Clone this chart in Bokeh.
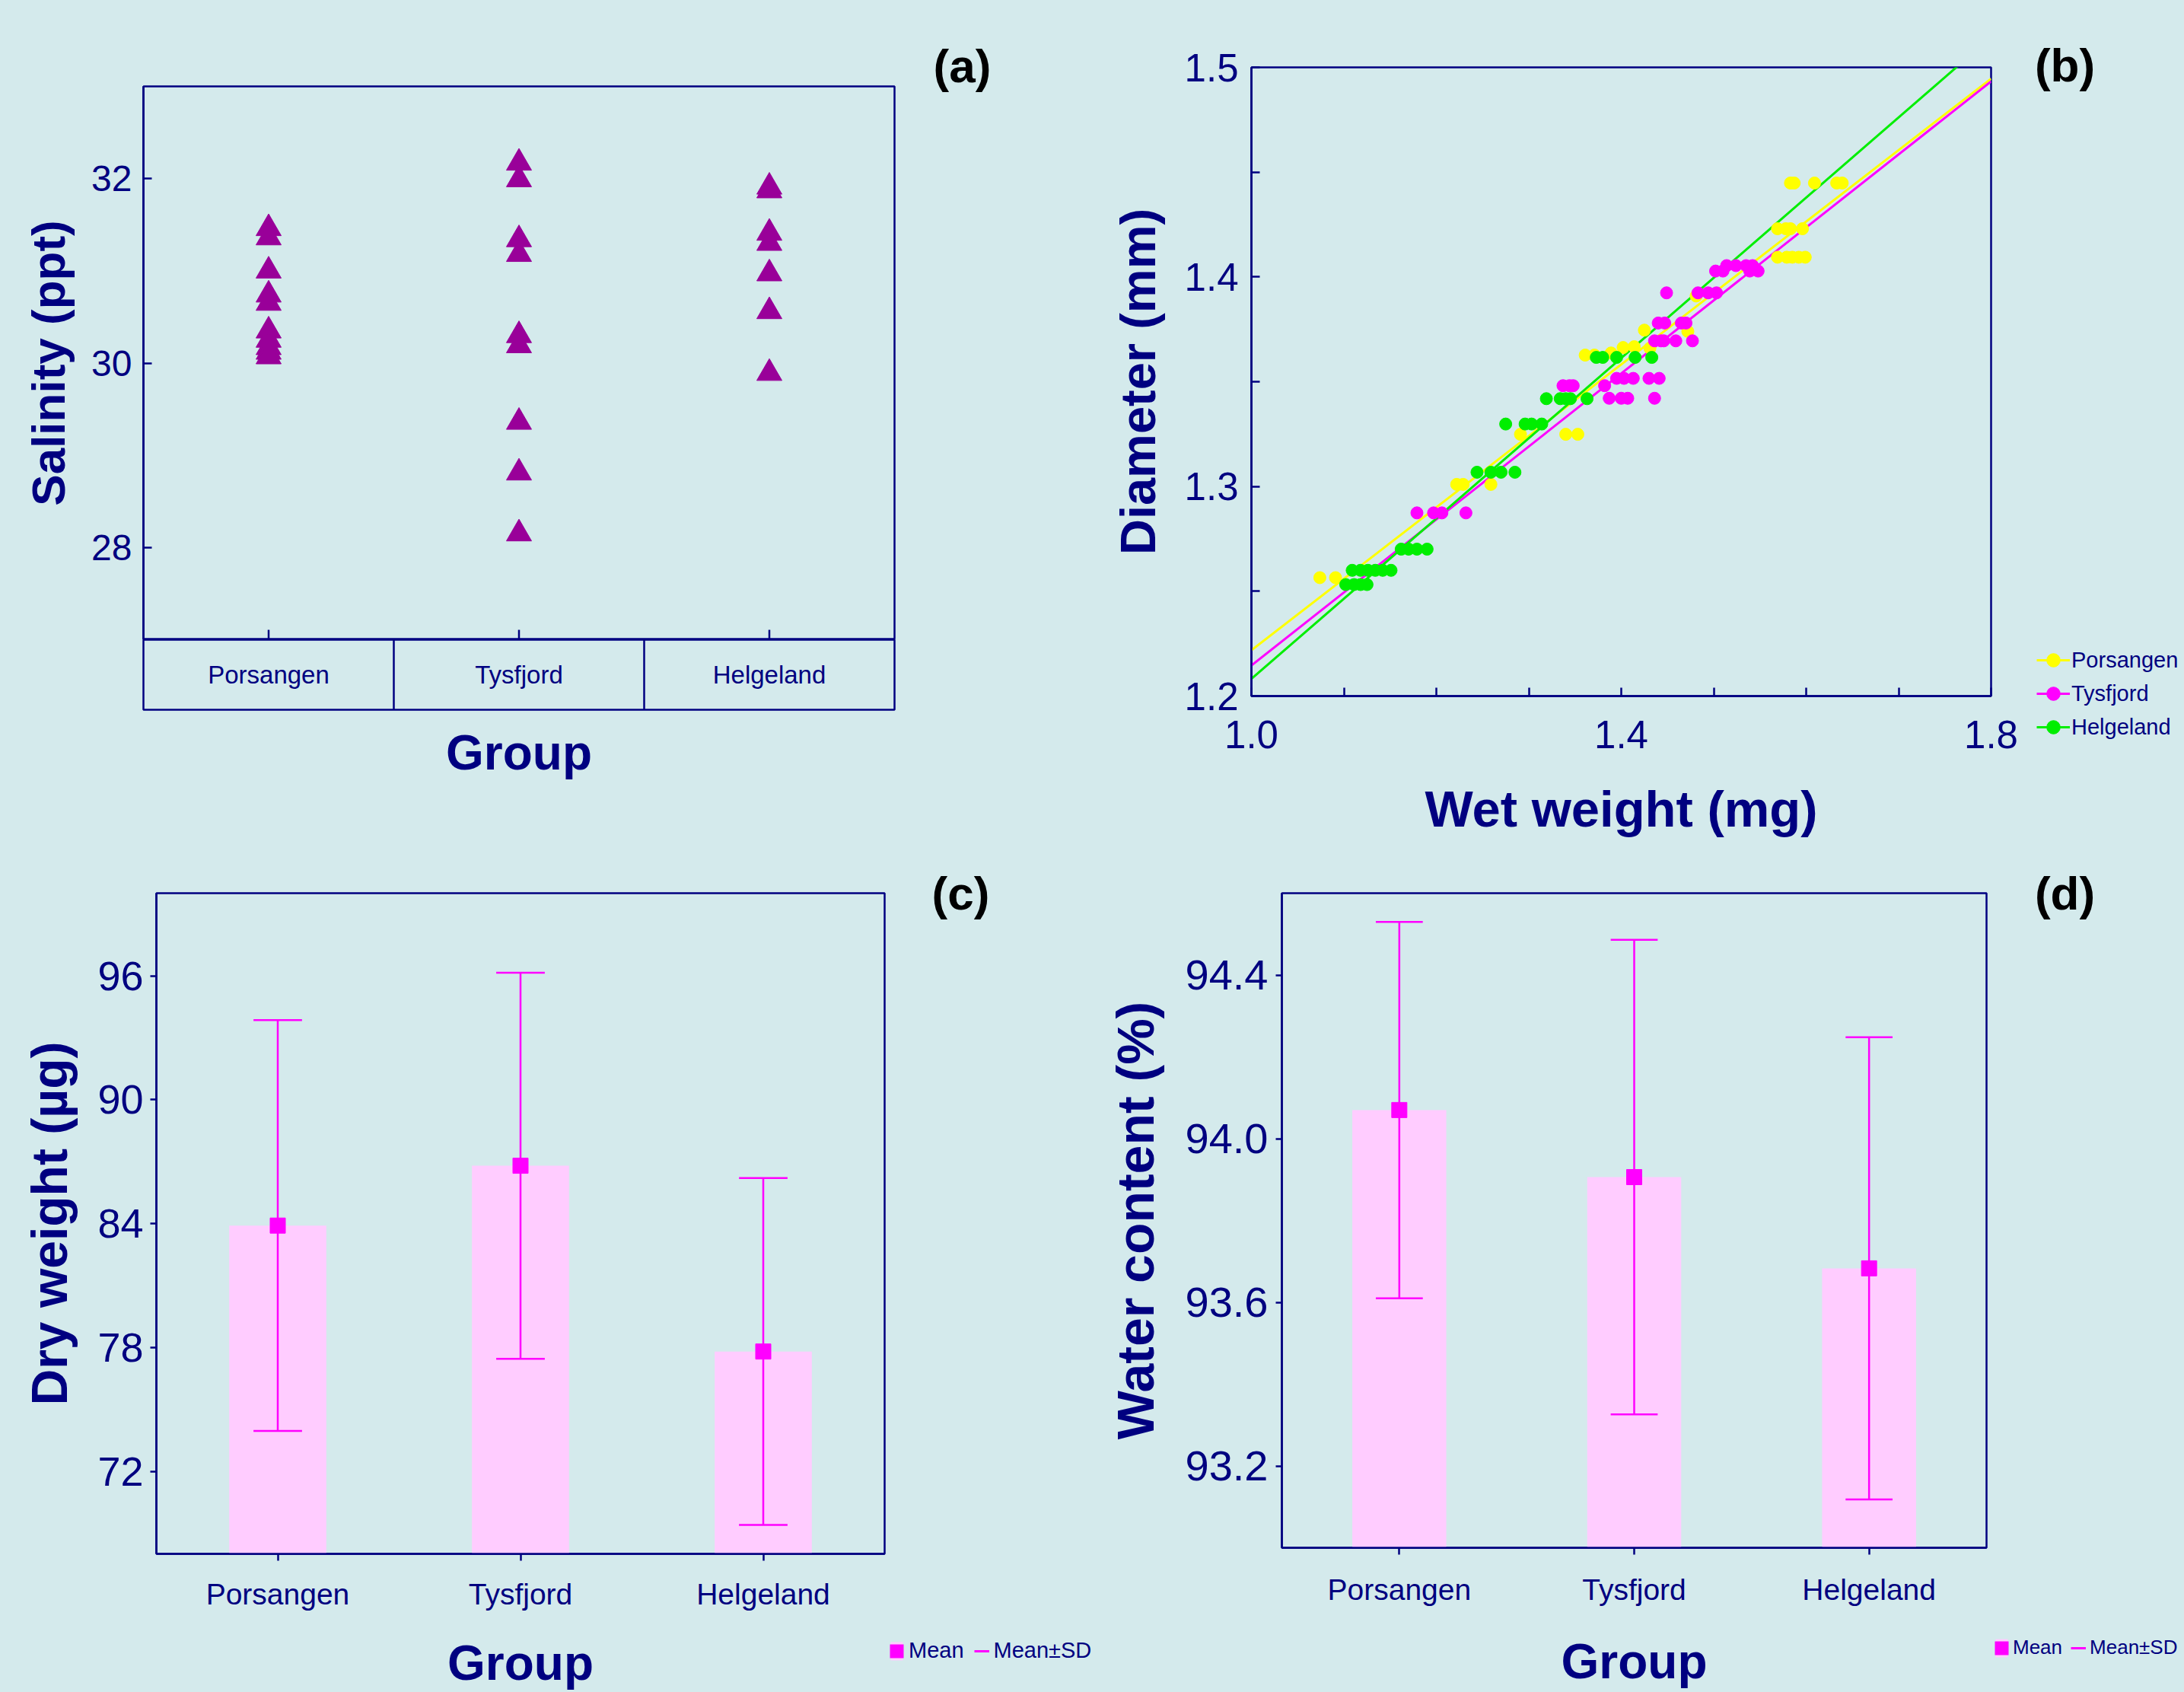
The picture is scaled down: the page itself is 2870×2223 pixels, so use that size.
import numpy as np
from bokeh.plotting import figure
from bokeh.layouts import column, row
from bokeh.models import (FactorRange, Range1d, FixedTicker, PrintfTickFormatter,
                          Legend, LegendItem, Span, Label)
from bokeh.embed import file_html
from bokeh.resources import INLINE
from bokeh.core.properties import value

# ---------------- data ----------------
CATS = ["Porsangen", "Tysfjord", "Helgeland"]

# (a) salinity per station
SAL_PORSANGEN = [31.46, 31.36, 31.00, 30.74, 30.65, 30.35, 30.25, 30.17, 30.12, 30.07]
SAL_TYSFJORD = [32.17, 31.99, 31.34, 31.18, 30.30, 30.19, 29.36, 28.81, 28.15]
SAL_HELGELAND = [31.91, 31.87, 31.41, 31.30, 30.97, 30.56, 29.89]
SAL_TICKS = [28, 30, 32]
SAL_MIN, SAL_MAX = 27, 33

# (b) wet weight (mg) vs diameter (mm)
WW_POR = [1.074, 1.091, 1.222, 1.229, 1.259, 1.291, 1.340, 1.353, 1.361, 1.371,
          1.389, 1.402, 1.414, 1.425, 1.431, 1.472, 1.481, 1.569, 1.578, 1.583,
          1.596, 1.569, 1.579, 1.585, 1.592, 1.599, 1.583, 1.587, 1.609, 1.633, 1.639]
DIA_POR = [1.2565, 1.2565, 1.3010, 1.3010, 1.3010, 1.3249, 1.3249, 1.3249, 1.3627, 1.3627,
           1.3637, 1.3663, 1.3667, 1.3746, 1.3660, 1.3740, 1.3909, 1.4230, 1.4230, 1.4230,
           1.4230, 1.4094, 1.4094, 1.4094, 1.4094, 1.4094, 1.4448, 1.4448, 1.4448, 1.4448, 1.4448]
WW_TYS = [1.179, 1.197, 1.206, 1.232, 1.337, 1.344, 1.348, 1.382, 1.387, 1.400,
          1.407, 1.436, 1.395, 1.403, 1.413, 1.430, 1.441, 1.436, 1.443, 1.446,
          1.459, 1.477, 1.440, 1.447, 1.465, 1.470, 1.449, 1.483, 1.494, 1.503,
          1.502, 1.510, 1.514, 1.524, 1.535, 1.542, 1.539, 1.548]
DIA_TYS = [1.2874, 1.2874, 1.2874, 1.2874, 1.3481, 1.3481, 1.3481, 1.3481, 1.3421, 1.3421,
           1.3421, 1.3421, 1.3516, 1.3516, 1.3516, 1.3516, 1.3516, 1.3695, 1.3695, 1.3695,
           1.3695, 1.3695, 1.3780, 1.3780, 1.3780, 1.3780, 1.3924, 1.3924, 1.3924, 1.3924,
           1.4028, 1.4028, 1.4054, 1.4054, 1.4054, 1.4054, 1.4028, 1.4028]
WW_HEL = [1.102, 1.111, 1.118, 1.125, 1.109, 1.118, 1.126, 1.134, 1.142, 1.151,
          1.162, 1.170, 1.179, 1.190, 1.244, 1.259, 1.270, 1.285, 1.275, 1.296,
          1.303, 1.314, 1.319, 1.334, 1.340, 1.345, 1.363, 1.373, 1.380, 1.395,
          1.415, 1.433]
DIA_HEL = [1.2532, 1.2532, 1.2532, 1.2532, 1.2600, 1.2600, 1.2600, 1.2600, 1.2600, 1.2600,
           1.2701, 1.2701, 1.2701, 1.2701, 1.3068, 1.3068, 1.3068, 1.3068, 1.3298, 1.3298,
           1.3298, 1.3298, 1.3419, 1.3419, 1.3419, 1.3419, 1.3419, 1.3616, 1.3616, 1.3616,
           1.3616, 1.3616]
FIT_X = [1.0, 1.8]
FIT_POR = [1.2219, 1.4946]
FIT_TYS = [1.2146, 1.4933]
FIT_HEL = [1.2082, 1.5144]
WW_TICKS = [1.0, 1.4, 1.8]
WW_MINOR = [1.1, 1.2, 1.3, 1.5, 1.6, 1.7]
DIA_TICKS = [1.2, 1.3, 1.4, 1.5]
DIA_MINOR = [1.25, 1.35, 1.45]

# (c) dry weight (ug)
DRY_MEAN = [83.9, 86.8, 77.8]
DRY_SD = [9.95, 9.35, 8.4]
DRY_TICKS = [72, 78, 84, 90, 96]

# (d) water content (%)
WATER_MEAN = [94.07, 93.906, 93.683]
WATER_SD = [0.46, 0.58, 0.565]
WATER_TICKS = [93.2, 93.6, 94.0, 94.4]

# ---------------- style ----------------
BG = "#d4eaec"
NAVY = "#000080"
PURPLE = "#990099"
YEL = "#ffff00"
MAG = "#ff00ff"
GRN = "#00ee00"
PINK = "#ffccff"
FONT = "Liberation Sans"
NO_POINT = np.array([np.nan])   # legend-key renderers draw nothing in the plot area


def make_fig(w, h, bl, br, bt, bb, xr, yr, title=None):
    p = figure(width=w, height=h, x_range=xr, y_range=yr, output_backend="svg",
               toolbar_location=None, min_border_left=bl, min_border_right=br,
               min_border_top=bt, min_border_bottom=bb, title=title,
               background_fill_color=BG, border_fill_color=BG)
    p.outline_line_color = NAVY
    p.outline_line_width = 2.5
    p.grid.grid_line_color = None
    for ax in p.axis:
        ax.axis_line_color = NAVY
        ax.axis_line_width = 2.5
        ax.major_tick_line_color = NAVY
        ax.major_tick_line_width = 2.5
        ax.minor_tick_line_color = None
        ax.major_label_text_font = FONT
        ax.major_label_text_color = NAVY
        ax.axis_label_text_font = FONT
        ax.axis_label_text_font_style = "bold"
        ax.axis_label_text_color = NAVY
    return p


def strip_fig(w, h):
    # side strip (no axes) holding a panel letter and a legend; y grows downward in px
    p = figure(width=w, height=h, x_range=Range1d(0, w), y_range=Range1d(h, 0),
               output_backend="svg", toolbar_location=None,
               min_border_left=0, min_border_right=0, min_border_top=0, min_border_bottom=0,
               background_fill_color=BG, border_fill_color=BG)
    p.outline_line_color = None
    p.axis.visible = False
    p.grid.visible = False
    return p


def letter(p, x, y, text):
    p.add_layout(Label(x=x, y=y, text=text, text_font=FONT, text_font_style="bold",
                       text_font_size="62px", text_color="black",
                       text_align="center", text_baseline="middle"))


# ---------------- (a) ----------------
A_FRAME_H = 727
A_TICK_PX = 13
pa = make_fig(1435, 840, 188, 260, 113, 0, FactorRange(*CATS), Range1d(SAL_MIN, SAL_MAX),
              title="(a)")
pa.title.align = "left"
pa.title.offset = 1038
pa.title.standoff = -15
pa.title.text_font = FONT
pa.title.text_font_style = "bold"
pa.title.text_font_size = "62px"
pa.title.text_color = "black"
pa.xaxis.visible = False
pa.yaxis.ticker = FixedTicker(ticks=SAL_TICKS)
pa.yaxis.formatter = PrintfTickFormatter(format="%d")
pa.yaxis.major_tick_in = 11
pa.yaxis.major_tick_out = 0
pa.yaxis.major_label_text_font_size = "48px"
pa.yaxis.major_label_standoff = 15
pa.yaxis.axis_label = "Salinity (ppt)"
pa.yaxis.axis_label_text_font_size = "62px"
pa.yaxis.axis_label_standoff = 19

# category tick marks on the bottom edge, pointing inward
tick_len = A_TICK_PX * (SAL_MAX - SAL_MIN) / A_FRAME_H
pa.segment(x0=CATS, x1=CATS, y0=[SAL_MIN] * len(CATS), y1=[SAL_MIN + tick_len] * len(CATS),
           line_color=NAVY, line_width=2.5)

sal_x = (["Porsangen"] * len(SAL_PORSANGEN) + ["Tysfjord"] * len(SAL_TYSFJORD)
         + ["Helgeland"] * len(SAL_HELGELAND))
sal_y = SAL_PORSANGEN + SAL_TYSFJORD + SAL_HELGELAND
pa.scatter(x=sal_x, y=sal_y, marker="triangle", size=33,
           fill_color=PURPLE, line_color=PURPLE)

# category box below (a)
pab = make_fig(1435, 271, 188, 260, 0, 179, FactorRange(*CATS), Range1d(0, 1))
pab.yaxis.visible = False
pab.xaxis.ticker = FixedTicker(ticks=[])
pab.xaxis.major_tick_line_color = None
pab.xaxis.axis_line_color = None
pab.xaxis.axis_label = "Group"
pab.xaxis.axis_label_text_font_size = "64px"
pab.xaxis.axis_label_standoff = 20
for b in range(1, len(CATS)):
    pab.add_layout(Span(location=b, dimension="height", line_color=NAVY, line_width=2.5))
pab.text(x=CATS, y=[0.5] * len(CATS), text=CATS, text_align="center",
         text_baseline="middle", text_font=value(FONT), text_font_size="33px",
         text_color=NAVY)

# ---------------- (b) ----------------
pb = make_fig(1225, 1111, 209, 44, 88, 197, Range1d(1.0, 1.8), Range1d(1.2, 1.5))
pb.xaxis.ticker = FixedTicker(ticks=WW_TICKS, minor_ticks=WW_MINOR)
pb.yaxis.ticker = FixedTicker(ticks=DIA_TICKS, minor_ticks=DIA_MINOR)
for ax in pb.axis:
    ax.formatter = PrintfTickFormatter(format="%.1f")
    ax.major_tick_in = 11
    ax.major_tick_out = 0
    ax.minor_tick_line_color = NAVY
    ax.minor_tick_line_width = 2.5
    ax.minor_tick_in = 11
    ax.minor_tick_out = 0
    ax.major_label_text_font_size = "51px"
pb.xaxis.major_label_standoff = 32
pb.yaxis.major_label_standoff = 17
pb.xaxis.axis_label = "Wet weight (mg)"
pb.xaxis.axis_label_text_font_size = "67px"
pb.xaxis.axis_label_standoff = 39
pb.yaxis.axis_label = "Diameter (mm)"
pb.yaxis.axis_label_text_font_size = "65px"
pb.yaxis.axis_label_standoff = 22

pb.line(FIT_X, FIT_POR, line_color=YEL, line_width=3)
pb.line(FIT_X, FIT_TYS, line_color=MAG, line_width=3)
pb.line(FIT_X, FIT_HEL, line_color=GRN, line_width=3)
pb.scatter(WW_POR, DIA_POR, size=16, fill_color=YEL, line_color=YEL)
pb.scatter(WW_TYS, DIA_TYS, size=16, fill_color=MAG, line_color=MAG)
pb.scatter(WW_HEL, DIA_HEL, size=16, fill_color=GRN, line_color=GRN)

# strip right of (b): letter + legend
sb = strip_fig(210, 1111)
letter(sb, 53, 85, "(b)")
items_b = []
for name, col in zip(CATS, [YEL, MAG, GRN]):
    kl = sb.line(x=NO_POINT, y=NO_POINT, line_color=col, line_width=3)
    ks = sb.scatter(x=NO_POINT, y=NO_POINT, size=16, fill_color=col, line_color=col)
    items_b.append(LegendItem(label=name, renderers=[kl, ks]))
sb.add_layout(Legend(items=items_b, location=(16, 134), orientation="vertical",
                     glyph_width=44, glyph_height=44, label_standoff=2, spacing=0,
                     padding=0, margin=0, border_line_color=None, background_fill_alpha=0,
                     label_text_font=FONT, label_text_font_size="29px",
                     label_text_color=NAVY))


# ---------------- (c) and (d) ----------------
def bar_panel(w, bl, br, bb, ymin, ymax, ticks, fmt, tick_px, tick_standoff,
              means, sds, ylabel, ylabel_px, ylabel_standoff, cat_standoff, group_standoff):
    p = make_fig(w, 1112, bl, br, 62, bb, FactorRange(*CATS), Range1d(ymin, ymax))
    p.yaxis.ticker = FixedTicker(ticks=ticks)
    p.yaxis.formatter = PrintfTickFormatter(format=fmt)
    p.yaxis.major_tick_in = 0
    p.yaxis.major_tick_out = 8
    p.yaxis.major_label_text_font_size = tick_px
    p.yaxis.major_label_standoff = tick_standoff
    p.yaxis.axis_label = ylabel
    p.yaxis.axis_label_text_font_size = ylabel_px
    p.yaxis.axis_label_standoff = ylabel_standoff
    p.xaxis.major_tick_in = 0
    p.xaxis.major_tick_out = 9
    p.xaxis.major_label_text_font_size = "39px"
    p.xaxis.major_label_standoff = cat_standoff
    p.xaxis.axis_label = "Group"
    p.xaxis.axis_label_text_font_size = "64px"
    p.xaxis.axis_label_standoff = group_standoff

    upper = [m + s for m, s in zip(means, sds)]
    lower = [m - s for m, s in zip(means, sds)]
    p.vbar(x=CATS, top=means, bottom=ymin, width=0.4, fill_color=PINK, line_color=None)
    p.segment(x0=CATS, y0=lower, x1=CATS, y1=upper, line_color=MAG, line_width=2.5)
    cap_x0 = [(c, -0.1) for c in CATS] * 2
    cap_x1 = [(c, 0.1) for c in CATS] * 2
    cap_y = upper + lower
    p.segment(x0=cap_x0, y0=cap_y, x1=cap_x1, y1=cap_y, line_color=MAG, line_width=2.5)
    p.scatter(x=CATS, y=means, marker="square", size=20, fill_color=MAG, line_color=MAG)
    return p


def bar_strip(w, text, letter_x, legend_loc, font_px, spacing, standoff):
    s = strip_fig(w, 1112)
    letter(s, letter_x, 62, text)
    kb = s.vbar(x=NO_POINT, top=NO_POINT, width=0.4, fill_color=PINK, line_color=None)
    km = s.scatter(x=NO_POINT, y=NO_POINT, marker="square", size=20,
                   fill_color=MAG, line_color=MAG, line_width=10, line_join="miter")
    ke = s.segment(x0=NO_POINT, y0=NO_POINT, x1=NO_POINT, y1=NO_POINT,
                   line_color=MAG, line_width=3)
    s.add_layout(Legend(items=[LegendItem(label="Mean", renderers=[kb, km]),
                               LegendItem(label="Mean±SD", renderers=[ke])],
                        location=legend_loc, orientation="horizontal",
                        glyph_width=20, glyph_height=30, label_standoff=standoff,
                        spacing=spacing, padding=0, margin=0, border_line_color=None,
                        background_fill_alpha=0, label_text_font=FONT,
                        label_text_font_size=font_px, label_text_color=NAVY))
    return s


pc = bar_panel(1165, 205, 3, 182, 68, 100, DRY_TICKS, "%d", "54px", 9,
               DRY_MEAN, DRY_SD, "Dry weight (µg)", "66px", 23, 22, 30)
sc = bar_strip(270, "(c)", 97, (3, 38), "29px", 13, 6)
pd = bar_panel(1181, 249, 6, 190, 93.0, 94.6, WATER_TICKS, "%.1f", "56px", 10,
               WATER_MEAN, WATER_SD, "Water content (%)", "68px", 25, 24, 34)
sd = bar_strip(254, "(d)", 97, (4, 43), "26px", 11, 5)

# each plot wrapped on its own so that the row does not align their frames
bg = {"background-color": BG}
layout = column(row(column(pa, pab, styles=bg), column(pb, styles=bg), column(sb, styles=bg),
                    styles=bg),
                row(column(pc, styles=bg), column(sc, styles=bg), column(pd, styles=bg),
                    column(sd, styles=bg), styles=bg),
                styles=bg)
open("out.html", "w", encoding="utf-8").write(file_html(layout, INLINE))
